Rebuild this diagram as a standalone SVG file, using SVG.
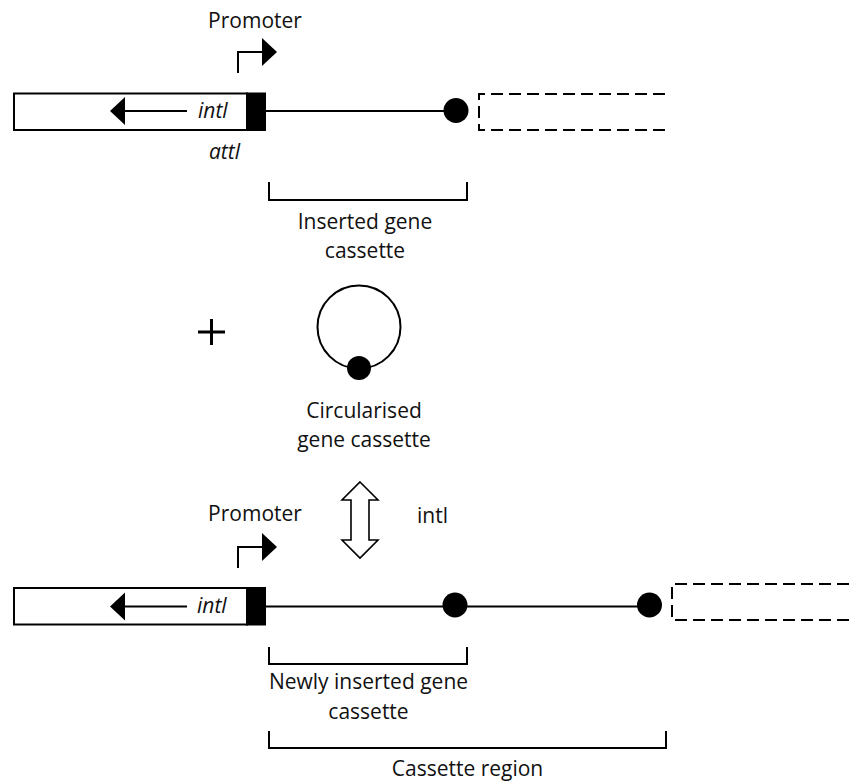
<svg xmlns="http://www.w3.org/2000/svg" width="849" height="783" viewBox="0 0 849 783">
<style>
text{font-family:"Open Sans","Noto Sans","Liberation Sans",sans-serif;font-size:21px;fill:#111}
.it{font-style:italic}
.c{text-anchor:middle}
.ln{fill:none;stroke:#000;stroke-width:2}
.box{fill:#fff;stroke:#000;stroke-width:2}
.dash{fill:none;stroke:#000;stroke-width:2;stroke-dasharray:12 6}
.blk{fill:#000}
</style>
<rect width="849" height="783" fill="#fff"/>

<g id="top-row">
  <rect class="box" x="14" y="93.5" width="233" height="36.5"/>
  <line class="ln" x1="125" y1="111" x2="187" y2="111"/>
  <polygon class="blk" points="110,111 125,97 125,125"/>
  <text class="it" x="198" y="118">intl</text>
  <rect class="blk" x="246" y="92.5" width="20" height="38.5"/>
  <text class="it" x="209" y="159">attl</text>
  <line class="ln" x1="266" y1="111" x2="450" y2="111"/>
  <circle class="blk" cx="456" cy="110.5" r="12.5"/>
  <path class="dash" d="M665,94 H479 V130 H665"/>
</g>

<g id="promoter-top">
  <text class="c" x="255" y="28">Promoter</text>
  <path class="ln" d="M238,73 V52 H263"/>
  <polygon class="blk" points="262,38 277,52 262,66"/>
</g>

<g id="bracket-top">
  <path class="ln" d="M269,182 V200 H467 V182"/>
  <text class="c" x="365" y="229">Inserted gene</text>
  <text class="c" x="365" y="258">cassette</text>
</g>

<g id="plus">
  <path d="M198,332 H225 M211.5,319 V345" stroke="#000" stroke-width="3" fill="none"/>
</g>

<g id="circular-cassette">
  <circle class="ln" cx="359" cy="327" r="41.5"/>
  <circle class="blk" cx="359" cy="368" r="12"/>
  <text class="c" x="364" y="418">Circularised</text>
  <text class="c" x="364" y="447">gene cassette</text>
</g>

<g id="connectors">
  <polygon points="360,482 378,500 369,500 369,540 378,540 360,558 342,540 351,540 351,500 342,500" fill="#fff" stroke="#000" stroke-width="1.6"/>
  <text x="417" y="523">intl</text>
</g>

<g id="promoter-bottom">
  <text class="c" x="255" y="521">Promoter</text>
  <path class="ln" d="M238,568 V547 H263"/>
  <polygon class="blk" points="262,533 277,547 262,561"/>
</g>

<g id="bottom-row">
  <rect class="box" x="14" y="588" width="233" height="36.5"/>
  <line class="ln" x1="125" y1="606.5" x2="187" y2="606.5"/>
  <polygon class="blk" points="110,606.5 125,592.5 125,620.5"/>
  <text class="it" x="197" y="613">intl</text>
  <rect class="blk" x="246" y="587" width="20" height="38.5"/>
  <line class="ln" x1="266" y1="606.5" x2="645" y2="606.5"/>
  <circle class="blk" cx="455" cy="605" r="12.5"/>
  <circle class="blk" cx="649.5" cy="605" r="12.5"/>
  <path class="dash" d="M849,584 H672 V620 H849"/>
</g>

<g id="bracket-new">
  <path class="ln" d="M269,647 V664 H467 V647"/>
  <text class="c" x="368.5" y="689">Newly inserted gene</text>
  <text class="c" x="368.5" y="719">cassette</text>
</g>

<g id="bracket-region">
  <path class="ln" d="M269,731 V748 H666 V731"/>
  <text class="c" x="467.5" y="776">Cassette region</text>
</g>
</svg>
